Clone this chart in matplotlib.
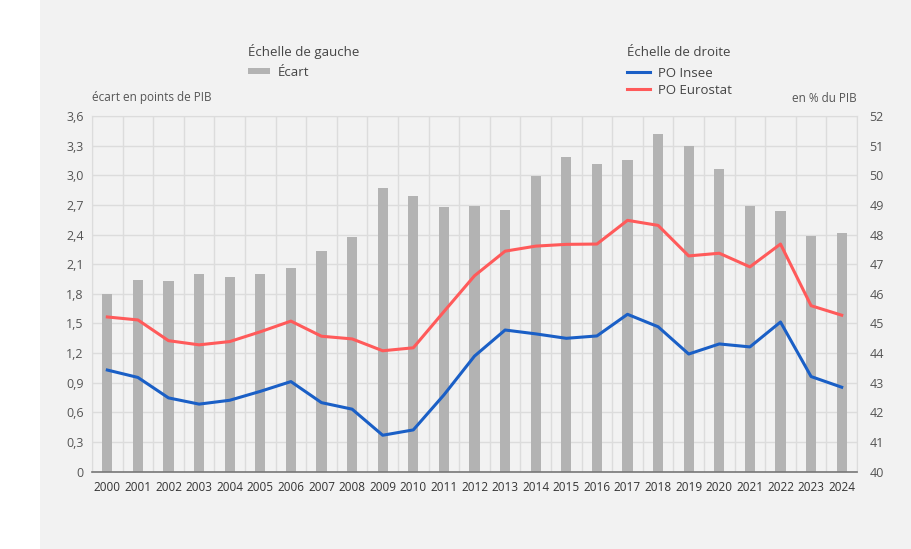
import matplotlib
matplotlib.use('Agg')
import matplotlib.pyplot as plt
from matplotlib.patches import Rectangle
from matplotlib.ticker import FixedLocator, FuncFormatter

plt.rcParams['font.family'] = ['Open Sans', 'DejaVu Sans']

# Data
years = [str(y) for y in range(2000, 2025)]
ecart = [1.80, 1.94, 1.93, 2.00, 1.97, 2.00, 2.06, 2.23, 2.38, 2.87,
         2.79, 2.68, 2.69, 2.65, 2.99, 3.18, 3.11, 3.15, 3.42, 3.30,
         3.06, 2.69, 2.64, 2.39, 2.42]
po_insee = [43.43, 43.18, 42.49, 42.28, 42.41, 42.71, 43.04, 42.33, 42.11, 41.23,
            41.41, 42.59, 43.90, 44.78, 44.65, 44.50, 44.58, 45.31, 44.89, 43.97,
            44.31, 44.21, 45.05, 43.21, 42.85]
po_eurostat = [45.22, 45.12, 44.42, 44.28, 44.39, 44.72, 45.08, 44.57, 44.48, 44.08,
               44.18, 45.40, 46.61, 47.44, 47.61, 47.67, 47.68, 48.48, 48.31, 47.28,
               47.37, 46.91, 47.68, 45.60, 45.28]
left_ticks = [0.3 * i for i in range(13)]
right_ticks = list(range(40, 53))

BG = '#f2f2f2'
GRID = '#dcdcdc'
BAR = '#b3b3b3'
BLUE = '#1a5fc6'
RED = '#ff5a5a'

fig = plt.figure(figsize=(9.11, 5.49), dpi=100)
fig.patch.set_facecolor('white')
# grey panel, starting a little right of the left edge
fig.patches.append(Rectangle((40 / 911, 0), 1 - 40 / 911, 1, transform=fig.transFigure,
                             facecolor=BG, edgecolor='none', zorder=-10))

ax = fig.add_axes([92 / 911, 1 - 471.7 / 549, (857 - 92) / 911, (471.7 - 116) / 549])
ax.set_facecolor(BG)
x = list(range(len(years)))
bars = ax.bar(x, ecart, width=0.33, color=BAR, zorder=2, label='Écart')
ax.set_xlim(-0.5, len(years) - 0.5)
ax.set_ylim(0, 3.6)
ax.yaxis.set_major_locator(FixedLocator(left_ticks))
ax.yaxis.set_major_formatter(FuncFormatter(
    lambda v, p: '0' if abs(v) < 1e-9 else f'{v:.1f}'.replace('.', ',')))
ax.set_xticks(x)
ax.set_xticklabels(years)
ax.xaxis.set_minor_locator(FixedLocator([i - 0.5 for i in range(len(years) + 1)]))
ax.grid(True, which='major', axis='y', color=GRID, lw=1, zorder=0)
ax.grid(True, which='minor', axis='x', color=GRID, lw=1, zorder=0)
ax.set_axisbelow(True)
ax.tick_params(axis='x', which='both', length=0, pad=7, labelsize=8.5, labelcolor='#333333')
ax.tick_params(axis='y', length=0, pad=6, labelsize=9, labelcolor='#555555')
for s in ['top', 'left', 'right']:
    ax.spines[s].set_color(GRID)
ax.spines['bottom'].set_color('#777777')
ax.spines['bottom'].set_linewidth(1.2)

ax2 = ax.twinx()
ax2.set_ylim(40, 52)
ax2.yaxis.set_major_locator(FixedLocator(right_ticks))
l1, = ax2.plot(x, po_insee, color=BLUE, lw=2.2, label='PO Insee', solid_joinstyle='round')
l2, = ax2.plot(x, po_eurostat, color=RED, lw=2.2, label='PO Eurostat', solid_joinstyle='round')
ax2.tick_params(axis='y', length=0, pad=9, labelsize=9, labelcolor='#555555')
for s in ['top', 'left', 'right', 'bottom']:
    ax2.spines[s].set_visible(False)

fig.text(92 / 911, 1 - 98 / 549, 'écart en points de PIB', fontsize=8.5, color='#555555',
         ha='left', va='center')
fig.text(857 / 911, 1 - 98 / 549, 'en % du PIB', fontsize=8.5, color='#555555',
         ha='right', va='center')

leg1 = fig.legend(handles=[bars], labels=['Écart'], title='Échelle de gauche',
                  loc='upper left', bbox_to_anchor=(241 / 911, 1 - 37 / 549),
                  frameon=False, fontsize=9.5, title_fontsize=9.5, handlelength=1.7,
                  handleheight=0.35, handletextpad=0.6, borderpad=0, labelspacing=0.4)
leg1._legend_box.align = 'left'
leg1._legend_box.sep = 5
leg1.get_title().set_color('#444444')
for t in leg1.get_texts():
    t.set_color('#444444')

leg2 = fig.legend(handles=[l1, l2], labels=['PO Insee', 'PO Eurostat'],
                  title='Échelle de droite', loc='upper left',
                  bbox_to_anchor=(620 / 911, 1 - 39 / 549), frameon=False,
                  fontsize=9.5, title_fontsize=9.5, handlelength=1.8,
                  handletextpad=0.6, borderpad=0, labelspacing=0.28)
leg2._legend_box.align = 'left'
leg2._legend_box.sep = 6
leg2.get_title().set_color('#444444')
for t in leg2.get_texts():
    t.set_color('#444444')

fig.savefig('out.png', dpi=100, facecolor=fig.get_facecolor())
